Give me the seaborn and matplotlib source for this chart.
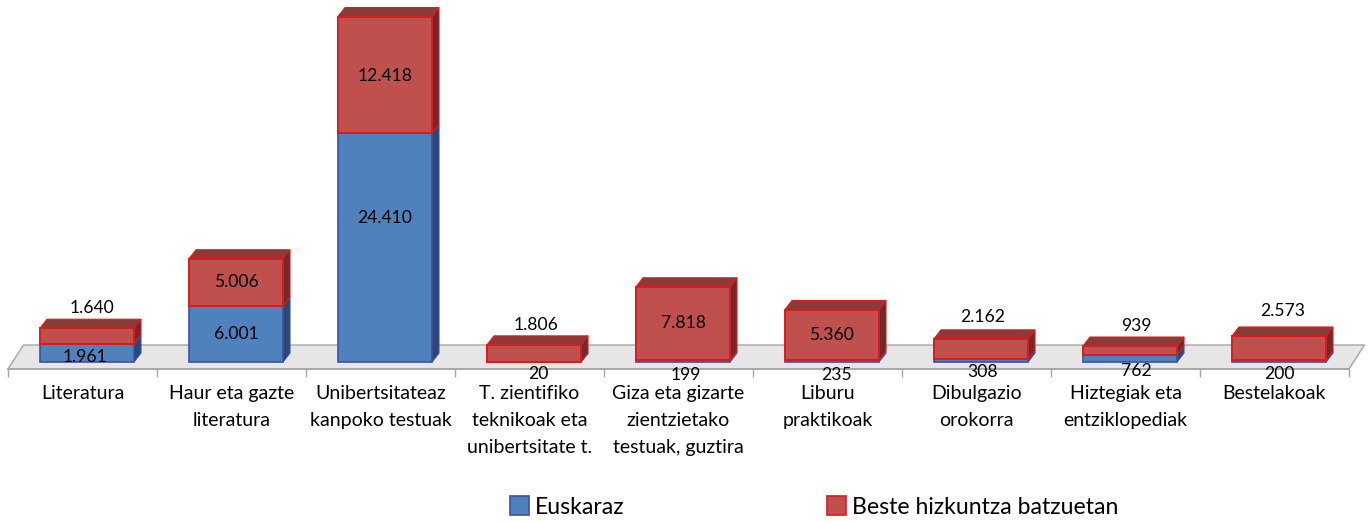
import matplotlib
matplotlib.use("Agg")
import matplotlib.pyplot as plt
from matplotlib.patches import Patch, Polygon
import pandas as pd
import seaborn as sns

categories = ["Literatura", "Haur eta gazte\nliteratura", "Unibertsitateaz\nkanpoko testuak",
              "T. zientifiko\nteknikoak eta\nunibertsitate t.", "Giza eta gizarte\nzientzietako\ntestuak, guztira",
              "Liburu\npraktikoak", "Dibulgazio\norokorra", "Hiztegiak eta\nentziklopediak", "Bestelakoak"]
euskaraz = [1961, 6001, 24410, 20, 199, 235, 308, 762, 200]
beste = [1640, 5006, 12418, 1806, 7818, 5360, 2162, 939, 2573]
series_names = ["Euskaraz", "Beste hizkuntza batzuetan"]

# label offsets in px from the segment centre (x, y up)
blue_off = [(-2, -4), (0, 0), (0, 30), (4, -12), (3, -14), (4, -14), (2, -11), (6, -13), (0, -13)]
red_off = [(5, 28), (0, 0), (0, -1), (2, 28), (0, 0), (0, 0), (2, 32), (6, 24), (4, 37)]

W, H = 1369, 522
PX_UNIT = 0.00938      # pixels per book
LEFT, RIGHT, BASE, AXB = 8, 1349, 362, 369
BAR_W = 94
SHIFT = 4.5            # bar centres sit a bit right of the category centre
DX, DY = 7, 9          # 3D depth, px

sns.set_theme(style="white")
plt.rcParams["font.family"] = ["Lato", "DejaVu Sans"]
fig = plt.figure(figsize=(W / 100, H / 100), dpi=100)
ax = fig.add_axes([LEFT / W, 1 - AXB / H, (RIGHT - LEFT) / W, AXB / H])
ax.patch.set_alpha(0)

df = pd.DataFrame({"cat": categories, "eu": euskaraz, "be": beste})
px_x = (RIGHT - LEFT) / len(categories)
w = BAR_W / px_x
sns.barplot(data=df, x="cat", y="eu", ax=ax, color="#4f81bd", saturation=1, width=w, order=categories, zorder=3)
n_blue = len(ax.patches)
sns.barplot(data=df, x="cat", y="be", ax=ax, color="#c0504d", saturation=1, width=w, order=categories, zorder=3)
ax.set_xlim(-0.5, len(categories) - 0.5)
ax.set_ylim(-(AXB - BASE) / PX_UNIT, BASE / PX_UNIT)

dx, dy = DX / px_x, DY / PX_UNIT
shift = SHIFT / px_x
blue_bars = ax.patches[:n_blue]
red_bars = ax.patches[n_blue:]

# floor
fx0, fx1 = -0.5, len(categories) - 0.5
fy0, fy1 = -(AXB - BASE) / PX_UNIT, 17 / PX_UNIT
fo = 15.5 / px_x
ax.add_patch(Polygon([(fx0, fy0), (fx1, fy0), (fx1 + fo, fy1), (fx0 + fo, fy1)], closed=True,
                     facecolor="#e6e6e6", edgecolor="#a6a6a6", lw=1, clip_on=False, zorder=1))


def depth(x0, x1, y0, y1, side, top, edge, z):
    ax.add_patch(Polygon([(x1, y0), (x1 + dx, y0 + dy), (x1 + dx, y1 + dy), (x1, y1)], closed=True,
                         facecolor=side, edgecolor=edge, lw=0.8, clip_on=False, zorder=z))
    if top:
        ax.add_patch(Polygon([(x0, y1), (x0 + dx, y1 + dy), (x1 + dx, y1 + dy), (x1, y1)], closed=True,
                             facecolor=top, edgecolor=edge, lw=0.8, clip_on=False, zorder=z))


for i, (b, r) in enumerate(zip(blue_bars, red_bars)):
    x0 = i - w / 2 + shift
    x1 = x0 + w
    b.set_x(x0)
    b.set_edgecolor("#3d50a6")
    b.set_linewidth(1.2)
    r.set_x(x0)
    r.set_y(euskaraz[i])
    r.set_edgecolor("#dc1a1e")
    r.set_linewidth(1.4)
    r.set_zorder(4)
    depth(x0, x1, 0, euskaraz[i], "#2c4770", None, "#3d50a6", 2)
    depth(x0, x1, euskaraz[i], euskaraz[i] + beste[i], "#6e2b2a", "#8c3a38", "#dc1a1e", 2.5)


def fmt(v):
    return f"{v:,}".replace(",", ".")


for i in range(len(categories)):
    xc = i + shift
    ax.annotate(fmt(euskaraz[i]), (xc, euskaraz[i] / 2), xytext=(blue_off[i][0] * .72, blue_off[i][1] * .72),
                textcoords="offset points", ha="center", va="center", fontsize=12.6, color="black", zorder=6,
                annotation_clip=False)
    ax.annotate(fmt(beste[i]), (xc, euskaraz[i] + beste[i] / 2), xytext=(red_off[i][0] * .72, red_off[i][1] * .72),
                textcoords="offset points", ha="center", va="center", fontsize=12.6, color="black", zorder=6,
                annotation_clip=False)

# axis
for s in ["top", "left", "right"]:
    ax.spines[s].set_visible(False)
ax.spines["bottom"].set_color("#a6a6a6")
ax.spines["bottom"].set_zorder(1.5)
ax.set_xlabel("")
ax.set_ylabel("")
ax.set_yticks([])
ax.set_xticks(range(len(categories)))
ax.set_xticklabels(categories, fontsize=14, linespacing=1.72, color="black")
ax.set_xticks([i - 0.5 for i in range(len(categories) + 1)], minor=True)
ax.tick_params(axis="x", which="major", length=0, pad=11.5)
ax.tick_params(axis="x", which="minor", length=5.5, width=1, color="#a6a6a6", bottom=True)

handles = [Patch(facecolor="#4f81bd", edgecolor="#3d50a6", lw=1.2),
           Patch(facecolor="#c0504d", edgecolor="#dc1a1e", lw=1.2)]
fig.legend(handles, series_names, loc="center left", bbox_to_anchor=(510 / W, 1 - 507 / H), ncol=2,
           frameon=False, fontsize=16.6, borderpad=0, borderaxespad=0, handlelength=0.82, handleheight=0.85,
           handletextpad=0.25, columnspacing=8.8, labelcolor="black")

fig.savefig("out.png", dpi=100)
